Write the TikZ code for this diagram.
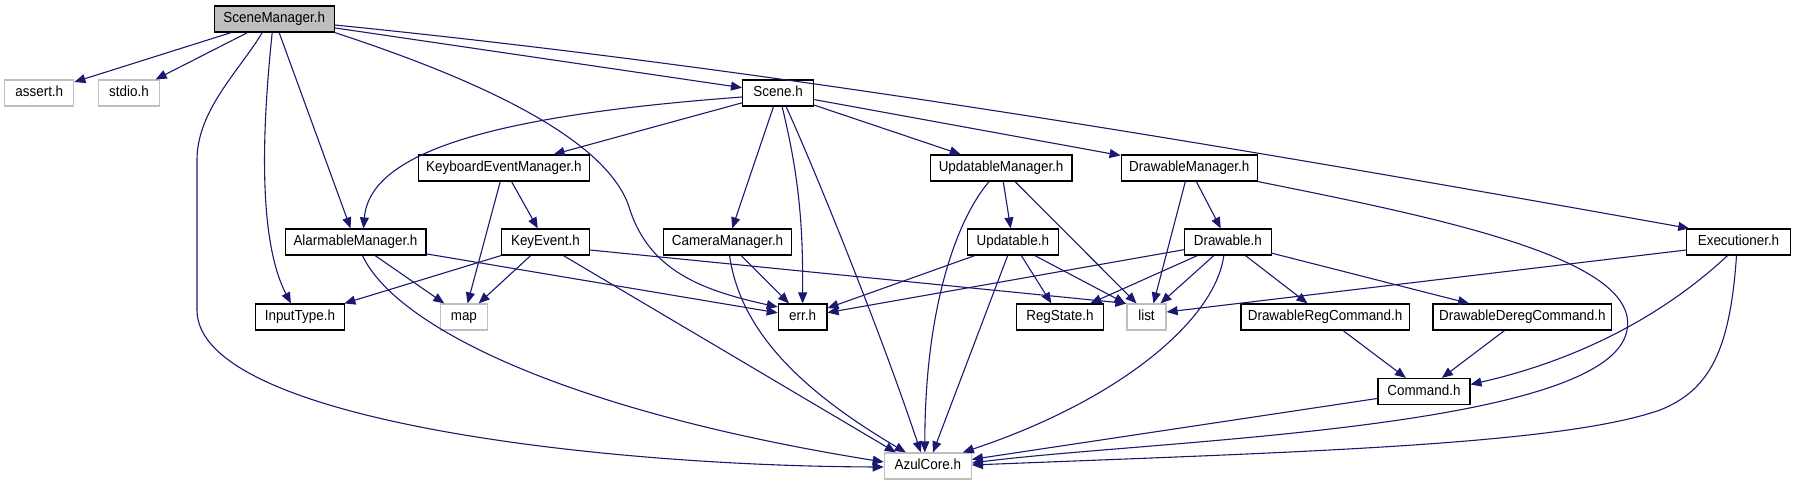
\documentclass[tikz,border=0pt]{standalone}
\usepackage{fontspec}
\setmainfont{Liberation Sans}[FakeStretch=0.92]
\usetikzlibrary{arrows.meta}
\definecolor{edgecol}{HTML}{191970}
\definecolor{grayline}{HTML}{BFBFBF}
\tikzset{
  box/.style={draw=black, line width=1.2pt, minimum height=26pt, inner sep=0pt,
    font=\fontsize{14.6}{16}\selectfont, text height=10.5pt, text depth=3pt},
  extbox/.style={box, draw=grayline},
  mainbox/.style={box, fill=grayline},
  e/.style={draw=edgecol, line width=1.1pt, -{Triangle[length=11pt,width=9pt]}}
}
\begin{document}
\begin{tikzpicture}[x=1pt,y=-1pt]
\useasboundingbox (0,0) rectangle (1795,485);
% nodes
\node[mainbox, minimum width=120pt] (SM) at (274.2,19) {SceneManager.h};
\node[extbox, minimum width=69pt] (assertH) at (39.3,93) {assert.h};
\node[extbox, minimum width=61pt] (stdioH) at (129,93) {stdio.h};
\node[box, minimum width=71pt] (Scene) at (778.1,93) {Scene.h};
\node[box, minimum width=171pt] (KEM) at (503.9,168) {KeyboardEventManager.h};
\node[box, minimum width=141.6pt] (UM) at (1001.1,168) {UpdatableManager.h};
\node[box, minimum width=136.2pt] (DM) at (1189.3,168) {DrawableManager.h};
\node[box, minimum width=140.8pt] (AM) at (355.5,242) {AlarmableManager.h};
\node[box, minimum width=88pt] (KeyEv) at (545.4,242) {KeyEvent.h};
\node[box, minimum width=128pt] (CM) at (727.6,242) {CameraManager.h};
\node[box, minimum width=90.7pt] (Upd) at (1012.8,242) {Updatable.h};
\node[box, minimum width=86.8pt] (Drw) at (1227.8,242) {Drawable.h};
\node[box, minimum width=103.3pt] (Exe) at (1738.5,242) {Executioner.h};
\node[box, minimum width=89pt] (InType) at (299.9,317) {InputType.h};
\node[extbox, minimum width=47.5pt] (mapH) at (463.9,317) {map};
\node[box, minimum width=48.6pt] (errH) at (802.6,317) {err.h};
\node[box, minimum width=87pt] (RegSt) at (1059.9,317) {RegState.h};
\node[extbox, minimum width=39pt] (listH) at (1146.5,317) {list};
\node[box, minimum width=168.4pt] (DRC) at (1325.1,317) {DrawableRegCommand.h};
\node[box, minimum width=178.8pt] (DDC) at (1522.4,317) {DrawableDeregCommand.h};
\node[box, minimum width=92pt] (Cmd) at (1423.9,391.5) {Command.h};
\node[extbox, minimum width=87pt] (Azul) at (927.8,466) {AzulCore.h};
% SceneManager.h
\draw[e] (SM) -- (assertH);
\draw[e] (SM) -- (stdioH);
\draw[e] (SM) -- (AM);
\draw[e] (SM) -- (Scene);
\draw[e] ([yshift=-6pt]SM.east) .. controls (784,70) and (1240,148) .. ([xshift=3pt]Exe.north west);
\draw[e] ([xshift=-12pt]SM.south) .. controls (240,70) and (197,110) .. (197,160) -- (197,310) .. controls (197,420) and (600,466) .. ([yshift=-1pt]Azul.west);
\draw[e] ([xshift=-2pt]SM.south) .. controls (262,130) and (258,240) .. ([xshift=-9pt]InType.north);
\draw[e] (SM.south east) .. controls (480,80) and (610,140) .. (630,210) .. controls (650,270) and (700,290) .. ([yshift=10pt]errH.west);
% Scene.h
\draw[e] ([yshift=-4pt]Scene.west) .. controls (500,115) and (370,150) .. ([xshift=8pt]AM.north);
\draw[e] (Scene) -- (KEM);
\draw[e] (Scene) -- (CM);
\draw[e] (Scene) -- (UM);
\draw[e] (Scene) -- (DM);
\draw[e] ([xshift=4pt]Scene.south) .. controls (800,180) and (803,230) .. (errH.north);
\draw[e] ([xshift=8pt]Scene.south) .. controls (815,170) and (880,330) .. ([xshift=-7pt]Azul.north);
% KeyboardEventManager.h
\draw[e] (KEM) -- (mapH);
\draw[e] (KEM) -- (KeyEv);
% AlarmableManager.h
\draw[e] (AM) -- (mapH);
\draw[e] (AM) -- (errH);
\draw[e] ([xshift=7pt]AM.south) .. controls (395,325) and (560,410) .. ([yshift=4pt]Azul.west);
% KeyEvent.h
\draw[e] (KeyEv) -- (InType);
\draw[e] (KeyEv) -- (mapH);
\draw[e] ([yshift=-8pt]KeyEv.east) -- (listH.north west);
\draw[e] ([xshift=18pt]KeyEv.south) -- ([xshift=-32pt]Azul.north);
% CameraManager.h
\draw[e] (CM) -- (errH);
\draw[e] ([xshift=2pt]CM.south) .. controls (740,330) and (800,390) .. ([xshift=-22pt]Azul.north);
% UpdatableManager.h
\draw[e] (UM) -- (Upd);
\draw[e] ([xshift=14pt]UM.south) -- ([xshift=-10pt]listH.north);
\draw[e] ([xshift=-12pt]UM.south) .. controls (960,215) and (925,300) .. ([xshift=-3pt]Azul.north);
% DrawableManager.h
\draw[e] (DM) -- (Drw);
\draw[e] ([xshift=-4pt]DM.south) -- ([xshift=7pt]listH.north);
\draw[e] (DM.south east) .. controls (1450,220) and (1640,260) .. (1627,330) .. controls (1610,430) and (1150,440) .. ([yshift=3pt]Azul.east);
% Updatable.h
\draw[e] (Upd) -- (errH);
\draw[e] (Upd) -- (Azul);
\draw[e] (Upd) -- (RegSt);
\draw[e] ([xshift=22pt]Upd.south) -- ([xshift=-1pt]listH.north west);
% Drawable.h
\draw[e] (Drw) -- (errH);
\draw[e] (Drw) -- (RegSt);
\draw[e] ([xshift=-14pt]Drw.south) -- ([xshift=14pt]listH.north);
\draw[e] ([xshift=-4pt]Drw.south) .. controls (1215,320) and (1120,400) .. ([xshift=35pt]Azul.north);
\draw[e] (Drw) -- (DRC);
\draw[e] (Drw) -- (DDC);
% Executioner.h
\draw[e] ([yshift=-8pt]Exe.west) -- ([yshift=5pt]listH.east);
\draw[e] ([xshift=-11pt]Exe.south) .. controls (1680,300) and (1600,355) .. ([yshift=7pt]Cmd.east);
\draw[e] ([xshift=-2pt]Exe.south) .. controls (1730,350) and (1710,390) .. (1660,410) .. controls (1560,445) and (1300,452) .. ([yshift=1pt]Azul.east);
% Commands
\draw[e] (DRC) -- (Cmd);
\draw[e] (DDC) -- (Cmd);
\draw[e] (Cmd) -- (Azul);
\end{tikzpicture}
\end{document}
